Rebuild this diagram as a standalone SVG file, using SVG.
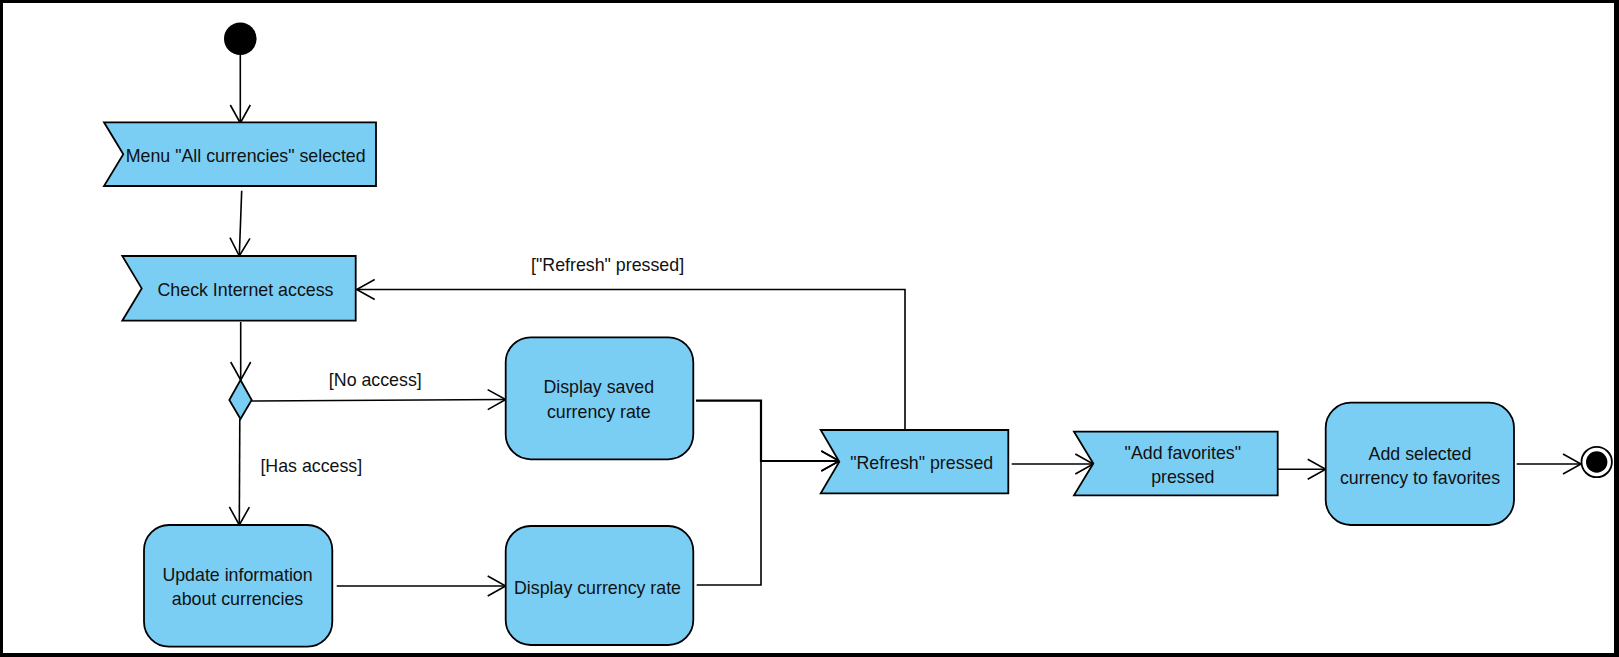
<svg xmlns="http://www.w3.org/2000/svg" width="1619" height="657" viewBox="0 0 1619 657">
<defs>
<style>
.node{fill:#7ACEF4;stroke:#000;stroke-width:1.8}
.t{font-family:"Liberation Sans",Arial,sans-serif;font-size:17.8px;fill:#111;text-anchor:middle}
.c{fill:none;stroke:#000;stroke-width:1.6}
</style>
<marker id="arr" markerUnits="userSpaceOnUse" markerWidth="24" markerHeight="24" refX="0" refY="0" viewBox="-20 -12 22 24" orient="auto" overflow="visible">
<path d="M-18,-10 L0,0 L-18,10" fill="none" stroke="#000" stroke-width="1.6"/>
</marker>
</defs>
<rect x="0" y="0" width="1619" height="657" fill="#000"/>
<rect x="3" y="3" width="1611" height="650" fill="#fff"/>

<g id="connectors">
<path class="c" d="M240.3,55 L240.3,123" marker-end="url(#arr)"/>
<path class="c" d="M241.7,190.7 L239.3,256" marker-end="url(#arr)"/>
<path class="c" d="M240.7,322 L240.7,380" marker-end="url(#arr)"/>
<path class="c" d="M251.7,401 L505.7,399.5" marker-end="url(#arr)"/>
<path class="c" d="M239.8,419 L239.3,525" marker-end="url(#arr)"/>
<path class="c" d="M336.7,586 L505.7,586" marker-end="url(#arr)"/>
<path class="c" style="stroke-width:2.2" d="M696,400.7 L761,400.7 L761,461 L839.3,461" marker-end="url(#arr)"/>
<path class="c" d="M696.7,585 L761,585 L761,461 L839.3,461" marker-end="url(#arr)"/>
<path class="c" d="M905,430 L905,289.5 L356.7,289.5" marker-end="url(#arr)"/>
<path class="c" d="M1011.7,464 L1093.3,464" marker-end="url(#arr)"/>
<path class="c" d="M1277.7,469.3 L1325.7,469.3" marker-end="url(#arr)"/>
<path class="c" d="M1516.7,464 L1581,464" marker-end="url(#arr)"/>
<text class="t" x="607.6" y="271">["Refresh" pressed]</text>
<text class="t" x="375.3" y="386">[No access]</text>
<text class="t" x="311.3" y="472">[Has access]</text>
</g>

<g id="start">
<circle cx="240.3" cy="38.8" r="16.3" fill="#000"/>
</g>

<g id="menu_selected">
<path class="node" d="M104,122.3 L376,122.3 L376,186 L104,186 L123.3,154.2 Z"/>
<text class="t" x="245.7" y="162.3">Menu "All currencies" selected</text>
</g>

<g id="check_internet">
<path class="node" d="M122.3,256 L355.7,256 L355.7,320.7 L122.3,320.7 L141.7,288.4 Z"/>
<text class="t" x="245.5" y="296">Check Internet access</text>
</g>

<g id="decision">
<path class="node" d="M240.5,380 L251.7,400 L240.5,419 L229.3,400 Z"/>
</g>

<g id="display_saved">
<rect class="node" x="505.7" y="337.3" width="187.6" height="122" rx="25" ry="25"/>
<text class="t" x="598.8" y="393.3">Display saved</text>
<text class="t" x="598.8" y="417.5">currency rate</text>
</g>

<g id="update_info">
<rect class="node" x="144" y="525" width="188.3" height="121.7" rx="25" ry="25"/>
<text class="t" x="237.5" y="580.7">Update information</text>
<text class="t" x="237.5" y="605">about currencies</text>
</g>

<g id="display_rate">
<rect class="node" x="505.7" y="526" width="187.6" height="119" rx="25" ry="25"/>
<text class="t" x="597.5" y="594.3">Display currency rate</text>
</g>

<g id="refresh_pressed">
<path class="node" d="M820.7,430 L1008.3,430 L1008.3,493.3 L820.7,493.3 L839.3,461.7 Z"/>
<text class="t" x="921.7" y="469">"Refresh" pressed</text>
</g>

<g id="add_favorites_pressed">
<path class="node" d="M1074,431.7 L1277.7,431.7 L1277.7,495.3 L1074,495.3 L1093.3,463.5 Z"/>
<text class="t" x="1182.8" y="459">"Add favorites"</text>
<text class="t" x="1182.8" y="483.3">pressed</text>
</g>

<g id="add_selected">
<rect class="node" x="1325.7" y="402.7" width="188.3" height="122.3" rx="25" ry="25"/>
<text class="t" x="1420" y="460">Add selected</text>
<text class="t" x="1420" y="484.3">currency to favorites</text>
</g>

<g id="final">
<circle cx="1596.7" cy="462" r="15.2" fill="#fff" stroke="#000" stroke-width="1.8"/>
<circle cx="1596.7" cy="462" r="10.7" fill="#000"/>
</g>
</svg>
